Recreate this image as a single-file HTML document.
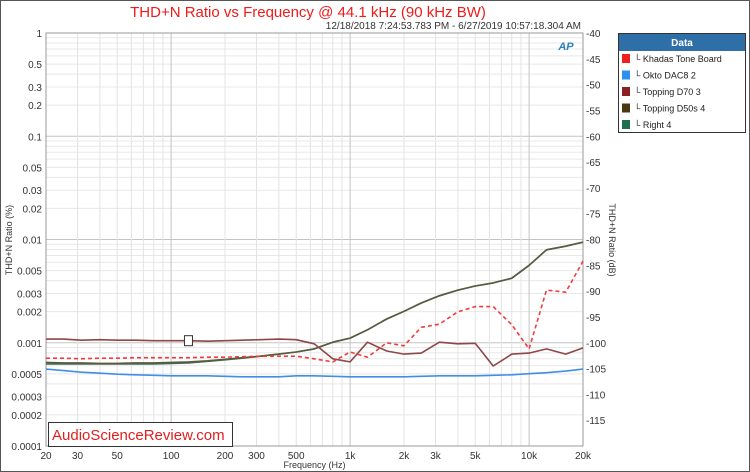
<!DOCTYPE html>
<html><head><meta charset="utf-8"><style>
body{margin:0;background:#fff;}
#wrap{position:relative;width:750px;height:472px;overflow:hidden;font-family:"Liberation Sans",sans-serif;}
svg text{font-family:"Liberation Sans",sans-serif;}
</style></head><body>
<div id="wrap">
<svg id="chart" width="750" height="472"></svg>
</div>
<script>
const freqs=[20,25,31.5,40,50,63,80,100,125,160,200,250,315,400,500,630,800,1000,1250,1600,2000,2500,3150,4000,5000,6300,8000,10000,12500,16000,20000];
const khadas=[-103,-103,-103.1,-103,-103,-102.9,-102.9,-102.9,-102.9,-102.8,-102.8,-102.7,-102.6,-102.6,-102.6,-103.1,-103.7,-101.8,-102.8,-100,-100.6,-97,-96.4,-94,-93,-93,-96.5,-101.2,-89.8,-90.2,-84.2];
const okto=[-105.1,-105.4,-105.7,-105.9,-106.1,-106.2,-106.3,-106.4,-106.4,-106.4,-106.5,-106.6,-106.6,-106.6,-106.4,-106.4,-106.5,-106.6,-106.6,-106.6,-106.6,-106.5,-106.4,-106.4,-106.4,-106.3,-106.2,-106,-105.8,-105.5,-105.1];
const d70=[-99.3,-99.3,-99.5,-99.4,-99.5,-99.5,-99.6,-99.6,-99.6,-99.7,-99.6,-99.5,-99.4,-99.3,-99.4,-100.2,-103.1,-103.7,-99.9,-101.6,-102.2,-102,-99.9,-100.2,-100.1,-104.5,-102.2,-102,-101.2,-102.2,-101];
const d50s=[-103.8,-103.9,-103.9,-104,-104,-103.9,-103.9,-103.8,-103.7,-103.5,-103.2,-102.9,-102.6,-102.2,-101.8,-101.2,-99.9,-99.1,-97.5,-95.4,-93.9,-92.3,-90.9,-89.8,-89,-88.4,-87.5,-85,-82,-81.3,-80.5];
const right=[-104.1,-104.1,-104.1,-104.1,-104.1,-104.1,-104.1,-104,-103.9,-103.6,-103.3,-103,-102.6,-102.2,-101.8,-101.2,-99.9,-99.1,-97.5,-95.4,-93.9,-92.3,-90.9,-89.8,-89,-88.4,-87.5,-85,-82,-81.3,-80.5];
const xTickVals=[20,30,50,100,200,300,500,1000,2000,3000,5000,10000,20000];
const xTickLabels=["20","30","50","100","200","300","500","1k","2k","3k","5k","10k","20k"];
const yTickVals=[1,0.5,0.3,0.2,0.1,0.05,0.03,0.02,0.01,0.005,0.003,0.002,0.001,0.0005,0.0003,0.0002,0.0001];
const yTickLabels=["1","0.5","0.3","0.2","0.1","0.05","0.03","0.02","0.01","0.005","0.003","0.002","0.001","0.0005","0.0003","0.0002","0.0001"];
const dbTicks=[-40,-45,-50,-55,-60,-65,-70,-75,-80,-85,-90,-95,-100,-105,-110,-115];

const L=46,R=583,T=33,B=446;
const NS="http://www.w3.org/2000/svg";
const svg=document.getElementById('chart');
function X(f){return L+(Math.log10(f)-Math.log10(20))/3*(R-L);}
function Ypct(p){return T+(0-Math.log10(p))/4*(B-T);}
function Ydb(d){return T+(-40-d)/80*(B-T);}
function mk(tag,attrs,txt){const e=document.createElementNS(NS,tag);for(const k in attrs)e.setAttribute(k,attrs[k]);if(txt!==undefined)e.textContent=txt;svg.appendChild(e);return e;}

let e;
e=mk('rect',{x:0.5,y:0.5,width:749,height:471,fill:'#fff',stroke:'#555'});


for(let d=-4;d<0;d++){for(let m=1;m<10;m++){const v=m*Math.pow(10,d);const y=Ypct(v);
 e=mk('line',{x1:L,x2:R,y1:y,y2:y,stroke:m==1?'#c4c4c4':'#e8e8e8','stroke-width':1});
 
 }}
for(let d=1;d<5;d++){for(let m=1;m<10;m++){const f=m*Math.pow(10,d);if(f<20||f>20000)continue;const x=X(f);
 e=mk('line',{x1:x,x2:x,y1:T,y2:B,stroke:m==1?'#c4c4c4':'#e4e4e4','stroke-width':1});
 
 }}
e=mk('rect',{x:L,y:T,width:R-L,height:B-T,fill:'none',stroke:'#999'});


yTickVals.forEach((v,i)=>{e=mk('text',{x:L-4,y:Ypct(v)+4,'text-anchor':'end','font-size':10,fill:'#333'},yTickLabels[i]);
 
 });
dbTicks.forEach(d=>{e=mk('text',{x:R+3,y:Ydb(d)+4,'font-size':10,fill:'#333'},String(d));
 
 });
xTickVals.forEach((v,i)=>{e=mk('text',{x:X(v),y:B+13,'text-anchor':'middle','font-size':10,fill:'#333'},xTickLabels[i]);
 
 });
e=mk('text',{x:(L+R)/2,y:468,'text-anchor':'middle','font-size':9,fill:'#333'},'Frequency (Hz)');


e=mk('text',{x:12,y:240,'text-anchor':'middle','font-size':9,fill:'#333',transform:'rotate(-90 12 240)'},'THD+N Ratio (%)');


e=mk('text',{x:609,y:240,'text-anchor':'middle','font-size':9,fill:'#333',transform:'rotate(90 609 240)'},'THD+N Ratio (dB)');


e=mk('text',{x:308,y:17,'text-anchor':'middle','font-size':15,fill:'#f01a1a'},'THD+N Ratio vs Frequency @ 44.1 kHz (90 kHz BW)');


e=mk('text',{x:581,y:29,'text-anchor':'end','font-size':10,fill:'#333'},'12/18/2018 7:24:53.783 PM - 6/27/2019 10:57:18.304 AM');


e=mk('text',{x:566,y:50,'text-anchor':'middle','font-size':11,'font-weight':'bold','font-style':'italic',fill:'#2a7fc0'},'AP');


function line(arr,color,name,dash,w){const pts=freqs.map((f,i)=>X(f).toFixed(1)+','+Ydb(arr[i]).toFixed(1)).join(' ');
 const el=mk('polyline',{points:pts,fill:'none',stroke:color,'stroke-width':w||1.6,'stroke-dasharray':dash||'none','stroke-linejoin':'round'});
 
 }
line(okto,'#3f8fe8','series-okto-dac8');
line(right,'#3e6e50','series-right');
line(d50s,'#5a5a40','series-topping-d50s');
line(d70,'#8e4646','series-topping-d70');
line(khadas,'#f03c3c','series-khadas-tone-board','4,3');
e=mk('rect',{x:X(125)-4,y:Ydb(-99.6)-5,width:8,height:10,fill:'#fff',stroke:'#333'});


e=mk('rect',{x:48.5,y:422.5,width:184,height:24,fill:'#fff',stroke:'#333'});


e=mk('text',{x:52,y:440,'font-size':15,fill:'#e02020'},'AudioScienceReview.com');


e=mk('rect',{x:618.5,y:33.5,width:127,height:99,fill:'#fff',stroke:'#333'});


e=mk('rect',{x:619,y:34,width:126,height:17,fill:'#2f6fa8'});


e=mk('text',{x:682,y:46,'text-anchor':'middle','font-size':10,'font-weight':'bold',fill:'#fff'},'Data');


const legNames=['Khadas Tone Board','Okto DAC8  2','Topping D70  3','Topping D50s  4','Right 4'];
const legColors=['#f02020','#2f8ff0','#8a2020','#4a3810','#1f6e50'];
legNames.forEach((n,i)=>{const y=59+i*16.5;
 e=mk('rect',{x:622,y:y-5,width:8,height:9,fill:legColors[i]});
 
 
 e=mk('text',{x:634,y:y+3,'font-size':9,fill:'#222'},'\u2514 '+n);
 
 });
</script>
</body></html>
